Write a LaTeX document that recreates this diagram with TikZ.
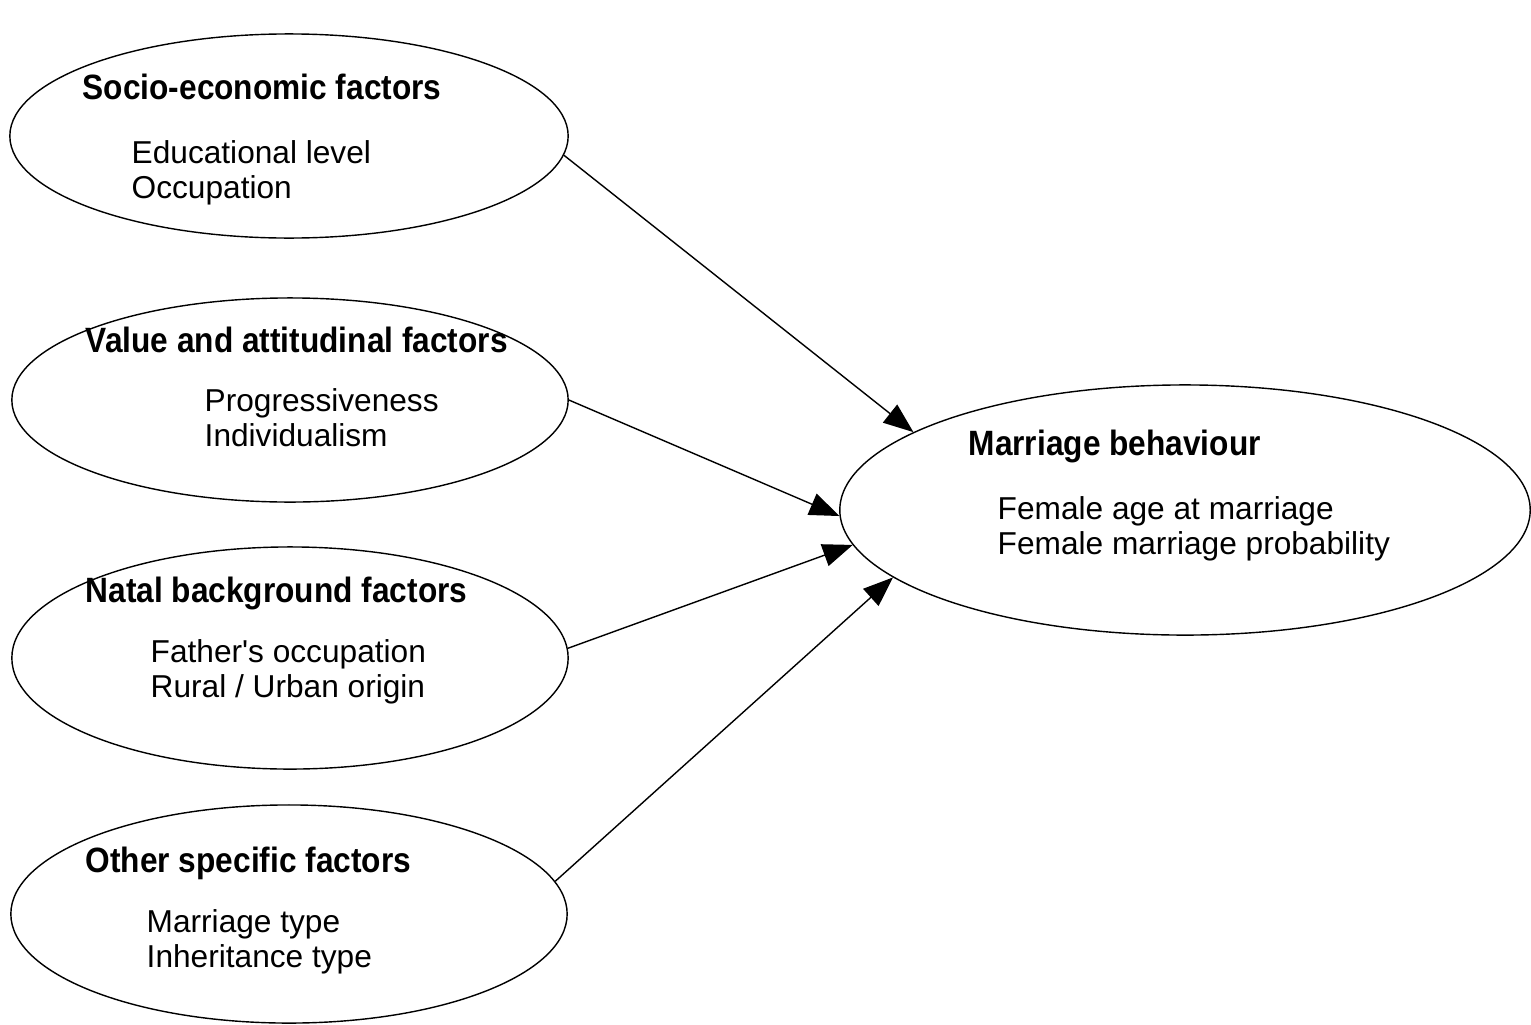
\documentclass[tikz,border=0pt]{standalone}
\usepackage{fontspec}
\setmainfont{Liberation Sans}[BoldFeatures={FakeStretch=0.9}]
\usetikzlibrary{shapes.geometric,arrows.meta}

\tikzset{
  factor/.style={draw, ellipse, thin, inner sep=0pt, minimum width=5.56cm, minimum height=2.04cm},
  heading/.style={anchor=base west, inner sep=0pt, font=\bfseries},
  item/.style={anchor=base west, inner sep=0pt},
  link/.style={thin, -{Triangle[length=8.5pt, width=6.5pt]}},
}

\begin{document}
\begin{tikzpicture}[x=0.01cm, y=-0.01cm, font=\fontsize{9pt}{11pt}\selectfont]
			%%%%% FRAME %%%%%
			\useasboundingbox (0,0) rectangle (1531,1024);
			
			%%%%% ELLIPSES %%%%%
			\node[factor, minimum width=5.58cm] (socio) at (289,136) {};
			\node[factor] (value) at (290,400) {};
			\node[factor, minimum height=2.22cm] (natal) at (290,658) {};
			\node[factor, minimum height=2.18cm] (other) at (289,914) {};
			\node[factor, minimum width=6.90cm, minimum height=2.50cm] (marriage) at (1185,510) {};
			
			%%%%% TEXTS %%%%%
			\node[heading] (socioT) at (82,99) {Socio-economic factors};
			\node[item] (socioA) at (131,163) {Educational level};
			\node[item] (socioB) at (131,198) {Occupation};
			
			\node[heading] (valueT) at (85,352) {Value and attitudinal factors};
			\node[item] (valueA) at (204,411) {Progressiveness};
			\node[item] (valueB) at (204,446) {Individualism};
			
			\node[heading] (natalT) at (85,602) {Natal background factors};
			\node[item] (natalA) at (150,662) {Father\textquotesingle s occupation};
			\node[item] (natalB) at (150,697) {Rural / Urban origin};
			
			\node[heading] (otherT) at (85,872) {Other specific factors};
			\node[item] (otherA) at (146,932) {Marriage type};
			\node[item] (otherB) at (146,967) {Inheritance type};
			
			\node[heading] (marriageT) at (968,455) {Marriage behaviour};
			\node[item] (marriageA) at (997,519) {Female age at marriage};
			\node[item] (marriageB) at (997,554) {Female marriage probability};
			
			%%%%% ARROWS %%%%%
			\draw[link] (socio.-4) -- (marriage.164);
			\draw[link] (value.0) -- (marriage.181);
			\draw[link] (natal.2) -- (marriage.186.7);
			\draw[link] (other.7.7) -- (marriage.193.8);
			
\end{tikzpicture}
\end{document}
